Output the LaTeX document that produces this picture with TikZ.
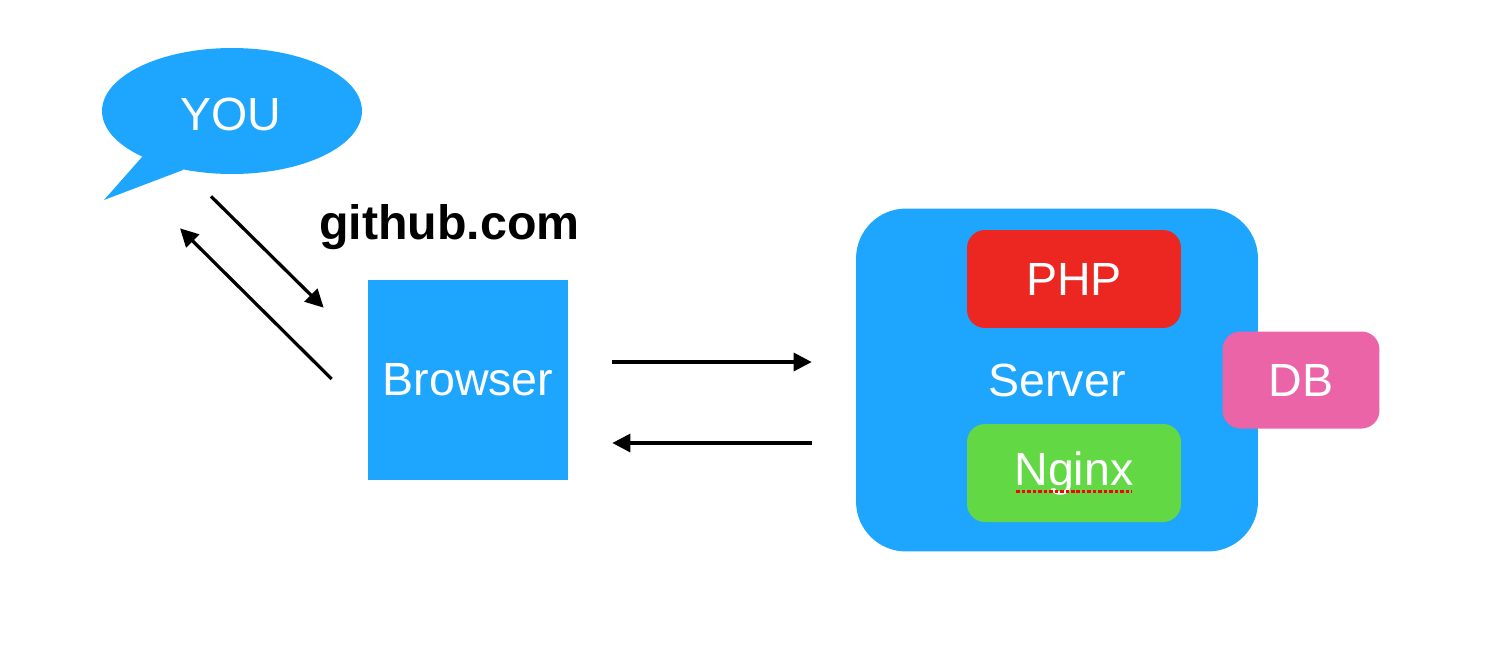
\documentclass[tikz,border=0pt]{standalone}
\usepackage{fontspec}
\setmainfont{Liberation Sans}
\usetikzlibrary{shapes.geometric,arrows.meta}

\definecolor{skyblue}{RGB}{30,165,254}
\definecolor{phpred}{RGB}{236,38,32}
\definecolor{nginxgreen}{RGB}{99,216,69}
\definecolor{dbpink}{RGB}{236,100,168}

\begin{document}
\begin{tikzpicture}[x=0.02cm,y=-0.02cm,
        every node/.style={font=\fontsize{26.5}{30}\selectfont,text=white,inner sep=0pt},
        box/.style={fill=skyblue,minimum width=4cm,minimum height=4cm},
        part/.style={rounded corners=0.36cm,minimum width=4.28cm,minimum height=1.96cm},
        flow/.style={line width=0.065cm,-{Triangle[length=0.36cm,width=0.36cm]}}]

    \useasboundingbox (0,0) rectangle (1498,650);

    % speech bubble
    \node[ellipse,fill=skyblue,minimum width=5.2cm,minimum height=2.52cm] (you) at (232,111) {};
    \fill[skyblue] (142,157) -- (104,200) -- (183,170) -- (190,140) -- cycle;
    \node at (231,114) {YOU};

    \node[box] (browser) at (468,380) {Browser};
    \node[anchor=base west,text=black,font=\fontsize{27.5}{30}\selectfont\bfseries] (site) at (319,239) {github.com};

    % server side
    \node[fill=skyblue,rounded corners=1cm,minimum width=8.04cm,minimum height=6.86cm] (server) at (1057,380) {Server};
    \node[part,fill=phpred] (php) at (1074,279) {PHP};
    \node[part,fill=nginxgreen] (nginx) at (1074,473) {Nginx};
    \node[fill=dbpink,rounded corners=0.36cm,minimum width=3.14cm,minimum height=1.94cm] (db) at (1301,380) {DB};
    \draw[red,line width=0.06cm,dash pattern=on 0.07cm off 0.04cm] ([shift={(-58,18)}]nginx.center) -- ([shift={(58,18)}]nginx.center);

    \draw[flow] ([shift={(-21,22)}]you.south) -- ([shift={(-44,28)}]browser.north west);
    \draw[flow] ([shift={(-36,-1)}]browser.west) -- ([shift={(-52,54)}]you.south);
    \draw[flow] ([shift={(44,-18)}]browser.east) -- ([shift={(-44,-18)}]server.west);
    \draw[flow] ([shift={(-44,63)}]server.west) -- ([shift={(44,63)}]browser.east);
\end{tikzpicture}
\end{document}
